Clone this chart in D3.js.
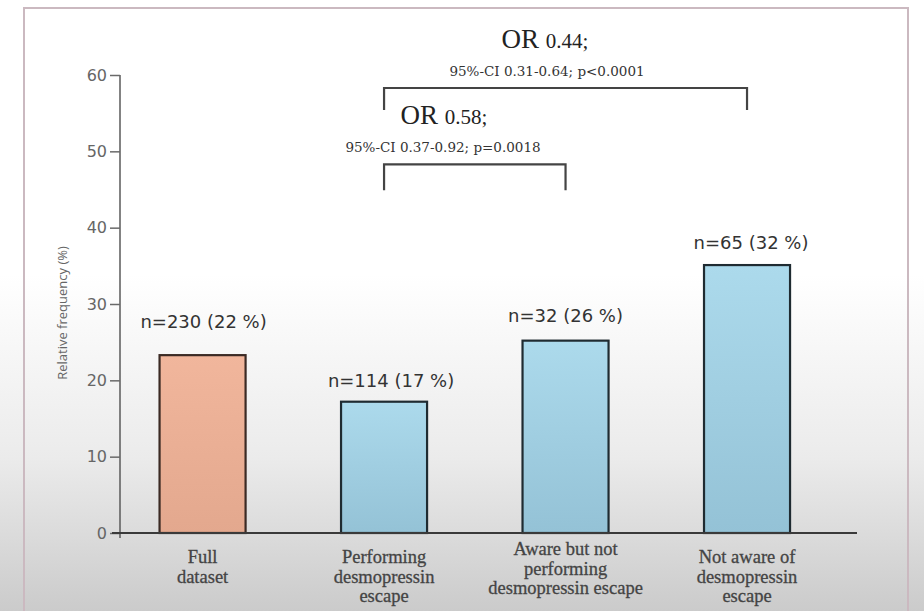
<!DOCTYPE html>
<html>
<head>
<meta charset="utf-8">
<script src="https://cdn.jsdelivr.net/npm/d3@7"></script>
<style>
  html, body { margin: 0; padding: 0; }
  body { width: 924px; height: 611px; overflow: hidden;
         background: linear-gradient(to bottom, #ffffff 0%, #ffffff 45%, #ebebeb 75%, #cbcbcb 100%); }
  svg { display: block; }
</style>
</head>
<body>
<svg id="chart" width="924" height="611"></svg>
<script>
// ---- data ----
const categories = ["Full dataset", "Performing desmopressin escape", "Aware but not performing desmopressin escape", "Not aware of desmopressin escape"];
const categoryLines = [["Full", "dataset"], ["Performing", "desmopressin", "escape"], ["Aware but not", "performing", "desmopressin escape"], ["Not aware of", "desmopressin", "escape"]];
const values = [23.3, 17.2, 25.2, 35.1];
const barLabels = ["n=230 (22 %)", "n=114 (17 %)", "n=32 (26 %)", "n=65 (32 %)"];
const yTicks = [0, 10, 20, 30, 40, 50, 60];
const yTitle = "Relative frequency (%)";
const comparisons = [
  { from: 1, to: 3, or: "0.44;", ci: "95%-CI 0.31-0.64; p<0.0001", level: 58.3, drop: 2.9 },
  { from: 1, to: 2, or: "0.58;", ci: "95%-CI 0.37-0.92; p=0.0018", level: 48.3, drop: 3.4 }
];

// ---- drawing ----
const svg = d3.select("#chart");
const defs = svg.append("defs");
const gradSpecs = [
  { id: "gOrange", top: "#f1b69c", bottom: "#e3a88e" },
  { id: "gBlue", top: "#acdaec", bottom: "#94c2d6" }
];
gradSpecs.forEach(g => {
  const lg = defs.append("linearGradient").attr("id", g.id).attr("x1", 0).attr("y1", 0).attr("x2", 0).attr("y2", 1);
  lg.append("stop").attr("offset", "0%").attr("stop-color", g.top);
  lg.append("stop").attr("offset", "100%").attr("stop-color", g.bottom);
});

// frame
svg.append("rect").attr("x", 24).attr("y", 8).attr("width", 884).attr("height", 620)
  .attr("fill", "none").attr("stroke", "#cbb9c0").attr("stroke-width", 2);

const y = d3.scaleLinear().domain([0, 60]).range([533, 75]);
const x = d3.scaleBand().domain(categories).range([116, 833.6]).paddingInner(0.526).paddingOuter(0.24);

// y axis
const yAxis = d3.axisLeft(y).tickValues(yTicks).tickSize(10).tickSizeOuter(0).tickPadding(3);
const gy = svg.append("g").attr("transform", "translate(120,0)").call(yAxis);
gy.select(".domain").attr("stroke", "#5a5a5a").attr("stroke-width", 1.5).attr("d", "M0,75V538");
gy.selectAll(".tick line").attr("stroke", "#6a6a6a").attr("stroke-width", 1.5);
gy.selectAll(".tick text").attr("fill", "#666").attr("font-family", "DejaVu Sans").attr("font-size", 16);

// y title
svg.append("text").attr("transform", "translate(67,313) rotate(-90)")
  .attr("text-anchor", "middle").attr("font-family", "Open Sans").attr("font-size", 13)
  .attr("fill", "#666").text(yTitle);

// bars
svg.append("g").selectAll("rect").data(values).join("rect")
  .attr("x", (d, i) => x(categories[i]))
  .attr("y", d => y(d))
  .attr("width", x.bandwidth())
  .attr("height", d => y(0) - y(d))
  .attr("fill", (d, i) => i === 0 ? "url(#gOrange)" : "url(#gBlue)")
  .attr("stroke", (d, i) => i === 0 ? "#3b2a24" : "#1f2b31")
  .attr("stroke-width", 2.2);

// x axis line
svg.append("line").attr("x1", 112).attr("x2", 857).attr("y1", y(0)).attr("y2", y(0))
  .attr("stroke", "#3a3a3a").attr("stroke-width", 2);

// bar labels
const labelDy = [-27, -15, -19, -16];
const labelDx = [1, 7, 0, 4];
svg.append("g").selectAll("text").data(values).join("text")
  .attr("x", (d, i) => x(categories[i]) + x.bandwidth() / 2 + labelDx[i])
  .attr("y", (d, i) => y(d) + labelDy[i])
  .attr("text-anchor", "middle").attr("font-family", "DejaVu Sans").attr("font-size", 18)
  .attr("fill", "#333").text((d, i) => barLabels[i]);

// category labels
const lineTop = [563, 563, 555, 563];
const catG = svg.append("g");
categoryLines.forEach((lines, i) => {
  const t = catG.append("text").attr("text-anchor", "middle")
    .attr("font-family", "Liberation Serif").attr("font-size", 18.5).attr("fill", "#444")
    .attr("stroke", "#444").attr("stroke-width", 0.3);
  lines.forEach((ln, j) => {
    t.append("tspan").attr("x", x(categories[i]) + x.bandwidth() / 2)
      .attr("y", lineTop[i] + j * 19.5).text(ln);
  });
});

// comparison brackets
const cx = i => x(categories[i]) + x.bandwidth() / 2;
comparisons.forEach(c => {
  const x1 = cx(c.from), x2 = cx(c.to);
  const yl = y(c.level), yb = y(c.level - c.drop);
  svg.append("path").attr("d", `M${x1},${yb}V${yl}H${x2}V${yb}`)
    .attr("fill", "none").attr("stroke", "#444").attr("stroke-width", 2.2);
  const orText = svg.append("text").attr("text-anchor", "middle")
    .attr("x", c.to === 3 ? 545 : 444).attr("y", yl - 40)
    .attr("font-family", "Liberation Serif").attr("fill", "#222");
  orText.append("tspan").attr("font-size", 27).text("OR ");
  orText.append("tspan").attr("font-size", 21).text(c.or);
  svg.append("text").attr("text-anchor", "middle")
    .attr("x", c.to === 3 ? 547 : 443).attr("y", yl - 12)
    .attr("font-family", "DejaVu Serif").attr("font-size", 13.5).attr("fill", "#333")
    .text(c.ci);
});
</script>
</body>
</html>
